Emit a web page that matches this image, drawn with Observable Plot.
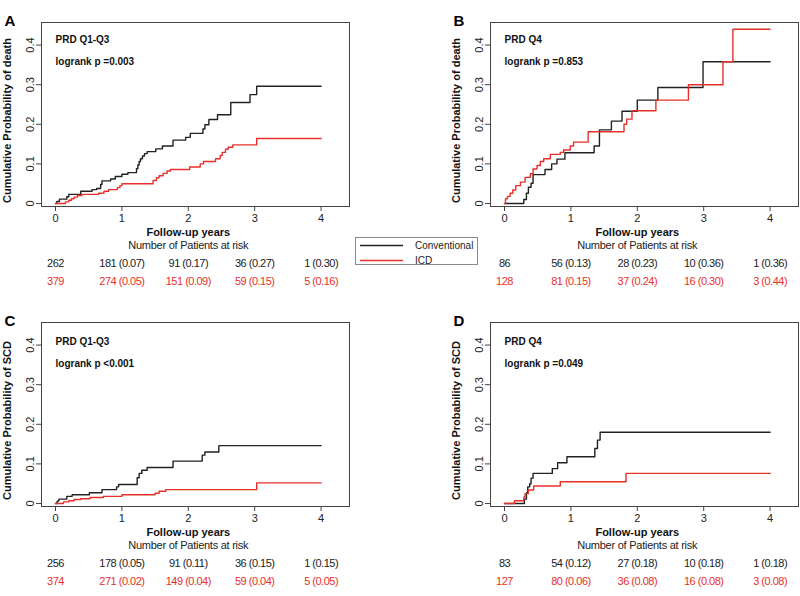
<!DOCTYPE html>
<html>
<head>
<meta charset="utf-8">
<script src="https://cdn.jsdelivr.net/npm/d3@7"></script>
<script src="https://cdn.jsdelivr.net/npm/@observablehq/plot@0.6"></script>
<style>
  body { margin: 0; background: #fff; }
  #root { position: relative; width: 800px; height: 596px; overflow: hidden; background: #fff; }
  #root svg { position: absolute; }
  .legend { position: absolute; left: 355px; top: 237px; width: 121px; height: 26px; border: 1px solid #8a8a8a; font: 10px "Liberation Sans", Arial, sans-serif; color: #222; }
</style>
</head>
<body>
<div id="root"></div>
<script>
// ---- data ----
const xTicks = [0, 1, 2, 3, 4];
const yTicks = [0, 0.1, 0.2, 0.3, 0.4];
const seriesNames = ["Conventional", "ICD"];
const seriesColors = ["#222222", "#e8302a"];

// Panel A: death, PRD Q1-Q3
const deathQ13Conventional = [[0,0],[0.02,0.005],[0.06,0.011],[0.17,0.017],[0.2,0.023],[0.38,0.031],[0.55,0.035],[0.62,0.038],[0.68,0.048],[0.7,0.057],[0.83,0.062],[0.9,0.068],[1.0,0.074],[1.09,0.078],[1.22,0.088],[1.24,0.097],[1.26,0.106],[1.28,0.113],[1.31,0.12],[1.34,0.126],[1.38,0.131],[1.51,0.138],[1.61,0.145],[1.77,0.16],[1.96,0.167],[2.03,0.177],[2.22,0.188],[2.25,0.199],[2.31,0.212],[2.44,0.224],[2.64,0.255],[2.93,0.275],[3.03,0.296],[4.0,0.296]];
const deathQ13ICD = [[0,0],[0.15,0.004],[0.2,0.008],[0.24,0.012],[0.28,0.016],[0.33,0.02],[0.4,0.023],[0.65,0.026],[0.73,0.031],[0.8,0.035],[0.93,0.04],[0.97,0.045],[1.0,0.05],[1.47,0.058],[1.52,0.065],[1.56,0.07],[1.62,0.076],[1.68,0.082],[1.73,0.086],[2.02,0.092],[2.18,0.1],[2.23,0.106],[2.41,0.113],[2.48,0.121],[2.51,0.129],[2.56,0.137],[2.6,0.142],[2.67,0.148],[3.03,0.164],[4.0,0.164]];
// Panel B: death, PRD Q4
const deathQ4Conventional = [[0,0],[0.29,0.01],[0.33,0.026],[0.36,0.041],[0.4,0.051],[0.43,0.073],[0.61,0.086],[0.71,0.1],[0.79,0.112],[0.91,0.128],[1.35,0.145],[1.43,0.186],[1.61,0.208],[1.77,0.233],[2.0,0.261],[2.31,0.293],[2.99,0.358],[4.0,0.358]];
const deathQ4ICD = [[0,0],[0.015,0.012],[0.045,0.018],[0.085,0.026],[0.125,0.034],[0.17,0.045],[0.24,0.054],[0.31,0.066],[0.39,0.075],[0.43,0.087],[0.49,0.096],[0.54,0.106],[0.59,0.113],[0.69,0.124],[0.84,0.129],[0.89,0.135],[0.99,0.145],[1.04,0.155],[1.26,0.181],[1.8,0.2],[1.84,0.213],[1.92,0.234],[2.28,0.261],[2.77,0.3],[3.29,0.358],[3.44,0.44],[4.0,0.44]];
// Panel C: SCD, PRD Q1-Q3
const scdQ13Conventional = [[0,0],[0.025,0.006],[0.05,0.011],[0.17,0.018],[0.25,0.022],[0.51,0.027],[0.7,0.035],[0.92,0.042],[0.95,0.048],[1.23,0.065],[1.26,0.076],[1.3,0.084],[1.38,0.091],[1.77,0.107],[2.21,0.122],[2.25,0.13],[2.46,0.146],[4.0,0.146]];
const scdQ13ICD = [[0,0],[0.12,0.004],[0.2,0.007],[0.28,0.01],[0.38,0.012],[0.52,0.015],[0.72,0.018],[1.0,0.022],[1.5,0.026],[1.56,0.031],[1.66,0.035],[3.03,0.052],[4.0,0.052]];
// Panel D: SCD, PRD Q4
const scdQ4Conventional = [[0,0],[0.3,0.011],[0.33,0.027],[0.35,0.042],[0.38,0.05],[0.4,0.064],[0.43,0.076],[0.72,0.088],[0.8,0.103],[0.94,0.118],[1.36,0.139],[1.4,0.16],[1.44,0.18],[4.0,0.18]];
const scdQ4ICD = [[0,0],[0.15,0.007],[0.29,0.016],[0.31,0.025],[0.36,0.034],[0.44,0.044],[0.84,0.055],[1.83,0.076],[4.0,0.076]];

// Numbers at risk (n) and cumulative probability (p) at years 0..4
const riskA_convN = [262, 181, 91, 36, 1];   const riskA_convP = [null, 0.07, 0.17, 0.27, 0.30];
const riskA_icdN  = [379, 274, 151, 59, 5];  const riskA_icdP  = [null, 0.05, 0.09, 0.15, 0.16];
const riskB_convN = [86, 56, 28, 10, 1];     const riskB_convP = [null, 0.13, 0.23, 0.36, 0.36];
const riskB_icdN  = [128, 81, 37, 16, 3];    const riskB_icdP  = [null, 0.15, 0.24, 0.30, 0.44];
const riskC_convN = [256, 178, 91, 36, 1];   const riskC_convP = [null, 0.05, 0.11, 0.15, 0.15];
const riskC_icdN  = [374, 271, 149, 59, 5];  const riskC_icdP  = [null, 0.02, 0.04, 0.04, 0.05];
const riskD_convN = [83, 54, 27, 10, 1];     const riskD_convP = [null, 0.12, 0.18, 0.18, 0.18];
const riskD_icdN  = [127, 80, 36, 16, 3];    const riskD_icdP  = [null, 0.06, 0.08, 0.08, 0.08];

const panelLetters = ["A", "B", "C", "D"];
const groupTitles = ["PRD Q1-Q3", "PRD Q4", "PRD Q1-Q3", "PRD Q4"];
const pValues = ["logrank p =0.003", "logrank p =0.853", "logrank p <0.001", "logrank p =0.049"];
const yLabels = ["Cumulative Probability of death", "Cumulative Probability of death", "Cumulative Probability of SCD", "Cumulative Probability of SCD"];
const xLabel = "Follow-up years";
const riskTitle = "Number of Patients at risk";

// ---- drawing ----
const SANS = "'Liberation Sans', Arial, Helvetica, sans-serif";

const panels = [
  {conv: deathQ13Conventional, icd: deathQ13ICD, cN: riskA_convN, cP: riskA_convP, iN: riskA_icdN, iP: riskA_icdP, left: 0, top: 0, width: 400, mr: 51, tdy: 0},
  {conv: deathQ4Conventional, icd: deathQ4ICD, cN: riskB_convN, cP: riskB_convP, iN: riskB_icdN, iP: riskB_icdP, left: 449, top: 0, width: 351, mr: 2, tdy: 0},
  {conv: scdQ13Conventional, icd: scdQ13ICD, cN: riskC_convN, cP: riskC_convP, iN: riskC_icdN, iP: riskC_icdP, left: 0, top: 300, width: 400, mr: 51, tdy: 2},
  {conv: scdQ4Conventional, icd: scdQ4ICD, cN: riskD_convN, cP: riskD_convP, iN: riskD_icdN, iP: riskD_icdP, left: 449, top: 300, width: 351, mr: 2, tdy: 2}
];

const fmtRisk = (n, p) => p == null ? String(n) : `${n} (${p.toFixed(2)})`;
const root = document.getElementById("root");

panels.forEach((p, k) => {
  const convRows = xTicks.map((x, i) => ({x, label: fmtRisk(p.cN[i], p.cP[i])}));
  const icdRows = xTicks.map((x, i) => ({x, label: fmtRisk(p.iN[i], p.iP[i])}));
  const chart = Plot.plot({
    width: p.width,
    height: 296,
    marginLeft: 41,
    marginRight: p.mr,
    marginTop: 22,
    marginBottom: 90,
    x: {domain: [-0.211, 4.428]},
    y: {domain: [-0.0076, 0.457]},
    style: {fontFamily: SANS, fontSize: "11px", color: "#222", background: "transparent", overflow: "visible"},
    marks: [
      Plot.frame({stroke: "#444", strokeWidth: 1}),
      Plot.axisX({ticks: xTicks, tickFormat: d => String(d), tickSize: 5, tickPadding: 3, label: null, fontSize: 11, stroke: "#444"}),
      Plot.axisY({ticks: yTicks, tickSize: 5, tickFormat: () => "", label: null, stroke: "#444"}),
      Plot.text(yTicks, {y: d => d, text: d => d === 0 ? "0" : d.toFixed(1), frameAnchor: "left", textAnchor: "middle", dx: -11, rotate: -90, fontSize: 11, fill: "#222"}),
      Plot.line(p.conv, {x: d => d[0], y: d => d[1], curve: "step-after", stroke: seriesColors[0], strokeWidth: 1.4}),
      Plot.line(p.icd, {x: d => d[0], y: d => d[1], curve: "step-after", stroke: seriesColors[1], strokeWidth: 1.4}),
      Plot.text([groupTitles[k]], {x: 0, frameAnchor: "top", dy: 13 + p.tdy, textAnchor: "start", fontWeight: "bold", fontSize: 10, fill: "#111"}),
      Plot.text([pValues[k]], {x: 0, frameAnchor: "top", dy: 35 + p.tdy, textAnchor: "start", fontWeight: "bold", fontSize: 10, fill: "#111"}),
      Plot.text([yLabels[k]], {frameAnchor: "left", textAnchor: "middle", dx: -34, dy: 6, rotate: -90, fontWeight: "bold", fontSize: 11, fill: "#111"}),
      Plot.text([panelLetters[k]], {frameAnchor: "top-left", textAnchor: "start", dx: -37, dy: -7, fontWeight: "bold", fontSize: 15, fill: "#000"}),
      Plot.text([xLabel], {x: 2, frameAnchor: "bottom", dy: 29, fontWeight: "bold", fontSize: 11, fill: "#111"}),
      Plot.text([riskTitle], {x: 2, frameAnchor: "bottom", dy: 42, fontSize: 11, fill: "#222"}),
      Plot.text(convRows, {x: "x", text: "label", frameAnchor: "bottom", dy: 60, fontSize: 11, fill: seriesColors[0]}),
      Plot.text(icdRows, {x: "x", text: "label", frameAnchor: "bottom", dy: 78, fontSize: 11, fill: seriesColors[1]})
    ]
  });
  // tighten the table text a little (the original used a condensed face)
  const textGroups = chart.querySelectorAll("g[aria-label='text']");
  const n = textGroups.length;
  if (n >= 3) {
    textGroups[n - 3].setAttribute("letter-spacing", "-0.25");
    textGroups[n - 2].setAttribute("letter-spacing", "-0.5");
    textGroups[n - 1].setAttribute("letter-spacing", "-0.5");
  }
  chart.style.left = p.left + "px";
  chart.style.top = p.top + "px";
  root.appendChild(chart);
});

// legend
const legend = document.createElement("div");
legend.className = "legend";
legend.innerHTML = seriesNames.map((name, i) =>
  `<div style="position:absolute;left:4px;top:${i * 15 + 1}px;height:13px;display:flex;align-items:center;">
     <svg width="44" height="13" style="position:static"><line x1="0" x2="43" y1="6.5" y2="6.5" stroke="${seriesColors[i]}" stroke-width="1.4"/></svg>
     <span style="margin-left:11px">${name}</span></div>`).join("");
root.appendChild(legend);
</script>
</body>
</html>
